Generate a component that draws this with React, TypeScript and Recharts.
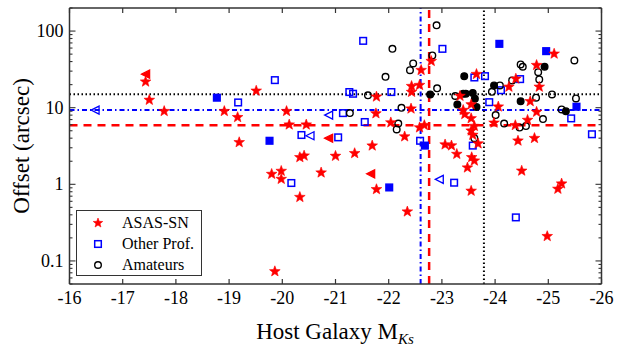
import React from 'react';
import { ScatterChart, Scatter, XAxis, YAxis, ReferenceLine, Legend } from 'recharts';

type Pt = [number, number];

// [host M_Ks, offset in arcsec]
const asasStars: Pt[] = [
  [-17.43, 21.8], [-17.5, 12.6], [-17.78, 9.0], [-19.16, 7.5], [-18.91, 9.0], [-19.51, 16.6],
  [-19.19, 3.53], [-20.08, 9.0], [-21.77, 13.9], [-22.42, 9.7], [-21.76, 8.4], [-20.13, 6.0],
  [-20.45, 6.0], [-22.04, 6.4], [-22.58, 5.5], [-22.67, 5.9], [-22.3, 4.2], [-21.69, 3.19],
  [-23.06, 3.3], [-22.8, 40.5], [-22.61, 30.9], [-22.43, 19.1], [-22.58, 19.7], [-22.43, 16.0],
  [-25.11, 50.5], [-23.65, 27.4], [-24.78, 35.9], [-24.83, 18.7], [-24.39, 23.8], [-24.26, 18.7],
  [-23.34, 14.2], [-23.55, 11.0], [-24.06, 10.3], [-24.66, 12.1], [-24.78, 8.8], [-24.61, 6.9],
  [-24.38, 5.9], [-23.98, 6.35], [-24.43, 3.7], [-24.74, 4.0], [-23.4, 9.3], [-23.43, 8.2],
  [-23.55, 7.25], [-23.61, 5.75], [-23.55, 5.0], [-23.58, 4.4], [-23.68, 3.4], [-23.18, 3.2],
  [-20.33, 2.25], [-20.41, 2.36], [-21.0, 2.34], [-21.36, 2.54], [-19.8, 1.36], [-19.98, 1.49],
  [-19.98, 1.17], [-20.73, 1.42], [-21.77, 0.86], [-20.33, 0.68], [-22.35, 0.44], [-19.86, 0.073],
  [-23.28, 2.48], [-23.56, 2.25], [-23.61, 2.03], [-23.48, 1.65], [-23.55, 0.82], [-24.5, 1.5],
  [-25.25, 1.02], [-25.18, 0.87], [-24.98, 0.21],
];
const asasTriangles: Pt[] = [[-17.44, 27.4], [-20.88, 4.0], [-21.67, 1.37]];

const otherOpen: Pt[] = [
  [-19.17, 11.7], [-19.86, 22.9], [-21.52, 74.5], [-23.01, 58.6], [-21.26, 16.0], [-21.33, 15.2],
  [-22.05, 16.0], [-21.14, 8.5], [-21.55, 6.5], [-20.36, 4.4], [-21.05, 4.1], [-22.59, 3.7],
  [-23.61, 24.8], [-23.81, 25.8], [-24.47, 23.6], [-24.11, 16.9], [-23.89, 11.8], [-25.43, 7.25],
  [-25.82, 4.5], [-23.58, 3.2], [-20.17, 1.04], [-23.23, 1.05], [-24.39, 0.37],
];
const otherFilled: Pt[] = [
  [-18.77, 13.5], [-19.76, 3.7], [-22.68, 3.2], [-24.08, 68.1], [-24.96, 54.7], [-25.53, 10.3], [-22.01, 0.91],
];
const otherTriangles: Pt[] = [[-16.49, 9.3], [-20.88, 8.0], [-20.53, 4.3], [-22.96, 1.16]];

const amateurOpen: Pt[] = [
  [-22.07, 58.6], [-22.9, 119], [-22.82, 48.1], [-22.46, 37.8], [-22.4, 30.9], [-21.94, 25.3],
  [-22.91, 17.9], [-21.61, 14.5], [-22.24, 9.97], [-21.27, 8.5], [-22.18, 6.2], [-22.15, 5.2],
  [-25.49, 41.4], [-24.48, 36.7], [-24.52, 34.2], [-24.81, 29.1], [-24.83, 23.4], [-24.32, 22.7],
  [-24.09, 19.5], [-23.94, 16.1], [-23.25, 14.2], [-24.77, 13.5], [-25.07, 14.9], [-25.52, 13.2],
  [-25.25, 9.5], [-24.9, 7.1], [-24.58, 5.75], [-24.46, 5.5], [-24.17, 6.2], [-24.01, 8.0], [-23.61, 4.0],
];
const amateurFilled: Pt[] = [
  [-22.78, 14.9], [-23.42, 25.8], [-24.93, 34.2], [-23.98, 19.5], [-23.4, 15.2], [-23.45, 15.2],
  [-23.58, 15.6], [-23.62, 13.1], [-23.29, 11.0], [-23.65, 10.2], [-24.48, 12.1], [-25.33, 9.0],
];

// median offsets / median host magnitudes
const asasMedian = { mag: -22.76, offset: 5.9 };
const otherMedian = { mag: -22.6, offset: 9.3 };
const amateurMedian = { mag: -23.79, offset: 15 };

const magTicks = [-16, -17, -18, -19, -20, -21, -22, -23, -24, -25, -26];
const offsetMajor = [0.1, 1, 10, 100];
const offsetTicks = [
  0.05, 0.06, 0.07, 0.08, 0.09, 0.1, 0.2, 0.3, 0.4, 0.5, 0.6, 0.7, 0.8, 0.9,
  1, 2, 3, 4, 5, 6, 7, 8, 9, 10, 20, 30, 40, 50, 60, 70, 80, 90, 100, 200,
];

const FONT = '"Liberation Serif", "DejaVu Serif", serif';
const RED = '#ff0000';
const BLUE = '#0000ff';
const FRAME = '#333';

const rows = (pts: Pt[]) => pts.map(([m, off]) => ({ m, off }));

const starPoints = (cx: number, cy: number, r: number) => {
  const p: string[] = [];
  for (let i = 0; i < 10; i++) {
    const rr = i % 2 === 0 ? r : r * 0.42;
    const a = -Math.PI / 2 + (i * Math.PI) / 5;
    p.push(`${cx + rr * Math.cos(a)},${cy + rr * Math.sin(a)}`);
  }
  return p.join(' ');
};

const Star = ({ cx, cy }: any) => (
  <polygon points={starPoints(cx, cy, 5.6)} fill={RED} stroke={RED} strokeWidth={0.6} />
);
const LegendStar = ({ cx, cy }: any) => (
  <polygon points={starPoints(cx, cy, 5)} fill={RED} stroke={RED} strokeWidth={0.6} />
);

const LeftTri = (fill: string, stroke: string) => ({ cx, cy }: any) => (
  <polygon
    points={`${cx - 4.5},${cy} ${cx + 3.5},${cy - 4} ${cx + 3.5},${cy + 4}`}
    fill={fill}
    stroke={stroke}
    strokeWidth={1.3}
  />
);

const Square = (filled: boolean) => ({ cx, cy }: any) => (
  <rect x={cx - 3.3} y={cy - 3.3} width={6.6} height={6.6} fill={filled ? BLUE : 'none'} stroke={BLUE} strokeWidth={1.5} />
);

const Circle = (filled: boolean) => ({ cx, cy }: any) => (
  <circle cx={cx} cy={cy} r={3.3} fill={filled ? '#000' : 'none'} stroke="#000" strokeWidth={1.4} />
);

// ticks drawn inward, matplotlib style
const BottomTick = ({ x, y, payload }: any) => (
  <g>
    <line x1={x} y1={y} x2={x} y2={y - 5} stroke={FRAME} strokeWidth={1.2} />
    <text x={x} y={y + 20} textAnchor="middle" fontFamily={FONT} fontSize={18} fill="#000">
      {String(payload.value)}
    </text>
  </g>
);
const TopTick = ({ x, y }: any) => <line x1={x} y1={y} x2={x} y2={y + 5} stroke={FRAME} strokeWidth={1.2} />;

const isMajor = (v: number) => offsetMajor.includes(v);
const LeftTick = ({ x, y, payload }: any) => {
  const major = isMajor(payload.value);
  return (
    <g>
      <line x1={x} y1={y} x2={x + (major ? 6 : 3)} y2={y} stroke={FRAME} strokeWidth={1.1} />
      {major && (
        <text x={x - 6} y={y + 6} textAnchor="end" fontFamily={FONT} fontSize={18} fill="#000">
          {String(payload.value)}
        </text>
      )}
    </g>
  );
};
const RightTick = ({ x, y, payload }: any) => {
  const major = isMajor(payload.value);
  return <line x1={x} y1={y} x2={x - (major ? 6 : 3)} y2={y} stroke={FRAME} strokeWidth={1.1} />;
};

const legendItems = [
  { name: 'ASAS-SN', Icon: LegendStar },
  { name: 'Other Prof.', Icon: Square(false) },
  { name: 'Amateurs', Icon: Circle(false) },
];

const LegendBox = () => (
  <div
    style={{
      width: 126,
      height: 66,
      boxSizing: 'border-box',
      border: `1.5px solid ${FRAME}`,
      background: '#fff',
      fontFamily: FONT,
      fontSize: 16,
      paddingTop: 1,
    }}
  >
    {legendItems.map(({ name, Icon }) => (
      <div key={name} style={{ display: 'flex', alignItems: 'center', height: 21 }}>
        <svg width={14} height={14} style={{ marginLeft: 14, marginRight: 17 }}>
          <Icon cx={7} cy={7} />
        </svg>
        <span>{name}</span>
      </div>
    ))}
  </div>
);

const axisLine = { stroke: FRAME, strokeWidth: 1.5 };

const App: React.FC = () => (
  <div style={{ position: 'absolute', left: 0, top: 0, background: '#fff' }}>
    <ScatterChart width={623} height={351} margin={{ top: 0, right: 0, bottom: 0, left: 0 }}>
      <XAxis
        xAxisId={0}
        dataKey="m"
        type="number"
        domain={[-26, -16]}
        reversed
        ticks={magTicks}
        interval={0}
        height={67}
        tickSize={0}
        tickMargin={0}
        tickLine={false}
        axisLine={axisLine}
        tick={BottomTick}
        allowDataOverflow
        label={() => (
          <text x={335} y={339} textAnchor="middle" fontFamily={FONT} fontSize={23} fill="#000">
            Host Galaxy M
            <tspan fontSize={15} fontStyle="italic" dy={5}>Ks</tspan>
          </text>
        )}
      />
      <XAxis
        xAxisId="top"
        orientation="top"
        dataKey="m"
        type="number"
        domain={[-26, -16]}
        reversed
        ticks={magTicks}
        interval={0}
        height={8}
        tickSize={0}
        tickMargin={0}
        tickLine={false}
        axisLine={axisLine}
        tick={TopTick}
        allowDataOverflow
      />
      <YAxis
        yAxisId={0}
        dataKey="off"
        type="number"
        scale="log"
        domain={[0.05, 200]}
        ticks={offsetTicks}
        interval={0}
        width={69.5}
        tickSize={0}
        tickMargin={0}
        tickLine={false}
        axisLine={axisLine}
        tick={LeftTick}
        allowDataOverflow
        label={() => (
          <text
            x={29}
            y={146}
            transform="rotate(-90, 29, 146)"
            textAnchor="middle"
            fontFamily={FONT}
            fontSize={23}
            fill="#000"
          >
            Offset (arcsec)
          </text>
        )}
      />
      <YAxis
        yAxisId="right"
        orientation="right"
        dataKey="off"
        type="number"
        scale="log"
        domain={[0.05, 200]}
        ticks={offsetTicks}
        interval={0}
        width={21.5}
        tickSize={0}
        tickMargin={0}
        tickLine={false}
        axisLine={axisLine}
        tick={RightTick}
        allowDataOverflow
      />

      <ReferenceLine y={amateurMedian.offset} stroke="#000" strokeWidth={2} strokeDasharray="1.5 2.5" />
      <ReferenceLine y={otherMedian.offset} stroke={BLUE} strokeWidth={2} strokeDasharray="5 3 1.5 3" />
      <ReferenceLine y={asasMedian.offset} stroke={RED} strokeWidth={2.5} strokeDasharray="8 6" />
      <ReferenceLine x={amateurMedian.mag} stroke="#000" strokeWidth={2} strokeDasharray="1.5 2.5" />
      <ReferenceLine x={otherMedian.mag} stroke={BLUE} strokeWidth={2} strokeDasharray="5 3 1.5 3" />
      <ReferenceLine x={asasMedian.mag} stroke={RED} strokeWidth={2.5} strokeDasharray="8 6" />

      <Scatter data={rows(otherOpen)} shape={Square(false)} isAnimationActive={false} legendType="none" />
      <Scatter data={rows(otherFilled)} shape={Square(true)} isAnimationActive={false} legendType="none" />
      <Scatter data={rows(otherTriangles)} shape={LeftTri('none', BLUE)} isAnimationActive={false} legendType="none" />
      <Scatter data={rows(amateurOpen)} shape={Circle(false)} isAnimationActive={false} legendType="none" />
      <Scatter data={rows(amateurFilled)} shape={Circle(true)} isAnimationActive={false} legendType="none" />
      <Scatter data={rows(asasStars)} shape={Star} isAnimationActive={false} legendType="none" />
      <Scatter data={rows(asasTriangles)} shape={LeftTri(RED, RED)} isAnimationActive={false} legendType="none" />

      <Legend
        layout="vertical"
        align="center"
        verticalAlign="middle"
        content={LegendBox}
        wrapperStyle={{ left: 76, top: 210, width: 126, height: 66 }}
      />
    </ScatterChart>
  </div>
);

export default App;
